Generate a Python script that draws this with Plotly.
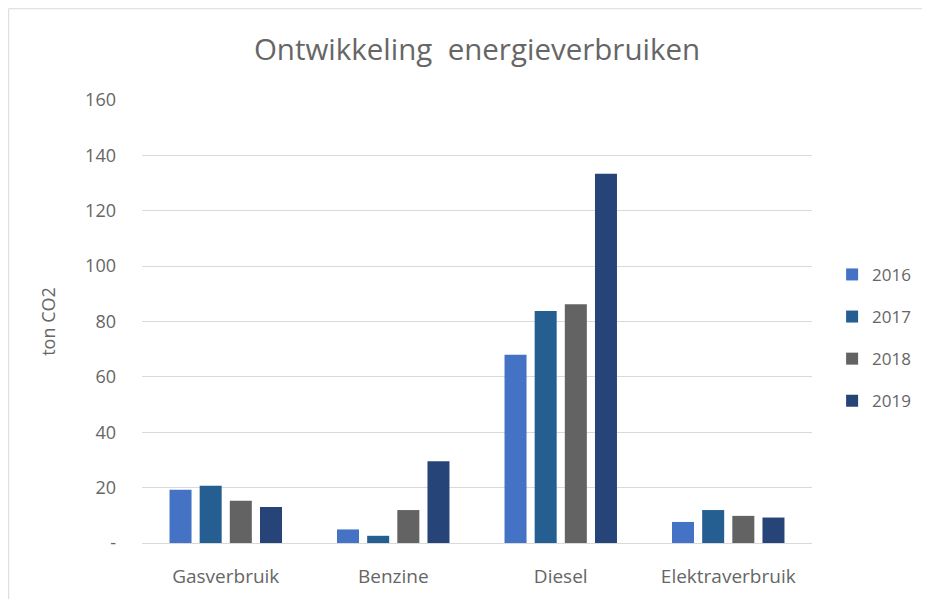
import plotly.graph_objects as go

categories = ["Gasverbruik", "Benzine", "Diesel", "Elektraverbruik"]
years = ["2016", "2017", "2018", "2019"]
v2016 = [19.2, 4.9, 68.0, 7.6]
v2017 = [20.7, 2.6, 83.8, 11.9]
v2018 = [15.3, 11.9, 86.2, 9.8]
v2019 = [13.0, 29.5, 133.4, 9.2]
series = [v2016, v2017, v2018, v2019]
colors = ["#4472C4", "#255E91", "#636363", "#264478"]
ytick_vals = [0, 20, 40, 60, 80, 100, 120, 140, 160]
ytick_text = ["-", "20", "40", "60", "80", "100", "120", "140", "160"]

FONT = "'Open Sans', Lato, sans-serif"
GRAY = "#666666"

fig = go.Figure()
for yr, vals, col in zip(years, series, colors):
    fig.add_trace(go.Bar(x=categories, y=vals, name=yr, marker_color=col,
                         marker_line_width=0, legendgroup=yr))

fig.update_layout(
    width=930, height=599,
    paper_bgcolor="white", plot_bgcolor="white",
    margin=dict(l=134, r=126, t=92, b=63.5),
    barmode="group", bargap=0.28, bargroupgap=0.27,
    font=dict(family=FONT, color=GRAY, size=16),
    title=dict(text="Ontwikkeling  energieverbruiken", x=0.5, xref="paper",
               y=0.93, yref="container", xanchor="center", yanchor="middle",
               font=dict(size=29.5, color=GRAY, family=FONT)),
    legend=dict(x=1.03, xanchor="left", y=0.463, yanchor="middle",
                font=dict(size=17, color=GRAY), tracegroupgap=17,
                itemwidth=30, bgcolor="rgba(0,0,0,0)"),
    xaxis=dict(showgrid=False, showline=False, ticks="", ticklabelstandoff=20,
               tickfont=dict(size=19, color=GRAY)),
    yaxis=dict(range=[0, 160], tickvals=ytick_vals, ticktext=ytick_text,
               showgrid=True, gridcolor="#D9D9D9", gridwidth=1,
               zeroline=True, zerolinecolor="#D9D9D9", zerolinewidth=1,
               showline=False, ticks="", ticklabelstandoff=25,
               tickfont=dict(size=18, color=GRAY),
               title=dict(text="ton CO2", font=dict(size=18, color=GRAY), standoff=24)),
    shapes=[dict(type="rect", xref="paper", yref="paper",
                 x0=-0.199, x1=1.3, y0=-0.3, y1=1.206,
                 line=dict(color="#D9D9D9", width=1), layer="below")],
)

fig.write_html("out.html")
